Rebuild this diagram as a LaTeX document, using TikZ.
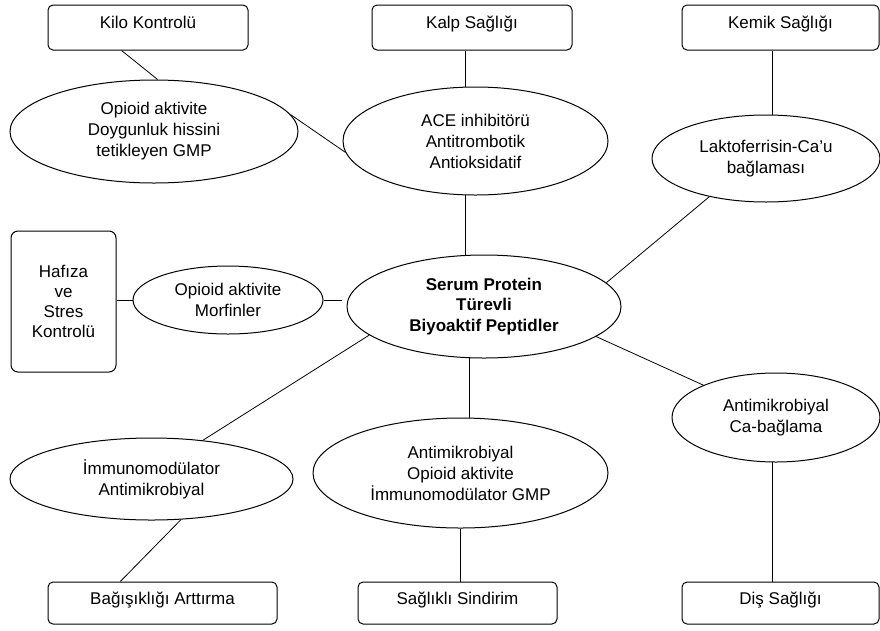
\documentclass[tikz,border=0pt]{standalone}
\usepackage{fontspec}
\setmainfont{Liberation Sans}
\usetikzlibrary{shapes.geometric}
\begin{document}
\begin{tikzpicture}[x=1pt,y=-1pt,
  every node/.style={font=\fontsize{17}{21}\selectfont, align=center, inner sep=0pt},
  topbox/.style={draw, line width=1pt, rounded corners=5pt, minimum width=#1, minimum height=45pt, text height=8pt, text depth=6pt},
  botbox/.style={draw, line width=1pt, rounded corners=5pt, minimum width=#1, minimum height=42pt, text height=8pt, text depth=6pt},
  ell/.style 2 args={draw, ellipse, line width=1pt, minimum width=#1, minimum height=#2},
  conn/.style={line width=0.8pt}]
\useasboundingbox (0,0) rectangle (880,630);
% boxes
\node[topbox=200pt] (kilo) at (148,27.5) {Kilo Kontrolü};
\node[topbox=200pt] (kalp) at (472,27.5) {Kalp Sağlığı};
\node[topbox=197pt] (kemik) at (780.5,27.5) {Kemik Sağlığı};
\node[draw, line width=1pt, rounded corners=7pt, minimum width=105pt, minimum height=141pt, font=\fontsize{17}{20}\selectfont] (hafiza) at (63.5,301.5) {Hafıza\\ve\\Stres\\Kontrolü};
\node[botbox=229pt] (bag) at (162.5,603) {Bağışıklığı Arttırma};
\node[botbox=199pt] (sag) at (457.5,603) {Sağlıklı Sindirim};
\node[botbox=197pt] (dis) at (780.5,603) {Diş Sağlığı};
% ellipses
\node[ell={288pt}{103pt}] (op1) at (154,131.5) {Opioid aktivite\\Doygunluk hissini\\tetikleyen GMP};
\node[ell={265pt}{108pt}] (ace) at (475.5,141) {ACE inhibitörü\\Antitrombotik\\Antioksidatif};
\node[ell={228pt}{87pt}] (lak) at (766,158.5) {Laktoferrisin-Ca’u\\bağlaması};
\node[ell={190pt}{68pt}] (mor) at (228,300) {Opioid aktivite\\Morfinler};
\node[ell={274pt}{103pt}, font=\fontsize{17}{20.5}\selectfont\bfseries] (ser) at (484,306.5) {Serum Protein\\Türevli\\Biyoaktif Peptidler};
\node[ell={283pt}{82pt}] (imm) at (151.5,479) {İmmunomodülator\\Antimikrobiyal};
\node[ell={295pt}{110pt}] (mid) at (460.5,473) {Antimikrobiyal\\Opioid aktivite\\İmmunomodülator GMP};
\node[ell={208pt}{89pt}] (ca) at (776,417.5) {Antimikrobiyal\\Ca-bağlama};
% connectors
\draw[conn] (kilo.221) -- (op1.86);
\draw[conn] (op1.7) -- (ace.185);
\draw[conn] (ace.101) -- (ace.101 |- kalp.south);
\draw[conn] (ace.259) -- (ace.259 |- ser.north);
\draw[conn] (lak.82) -- (lak.82 |- kemik.south);
\draw[conn] (lak.214) -- (ser.11.5);
\draw[conn] (mor.west) -- (mor.west -| hafiza.east);
\draw[conn, shorten >=5pt] (mor.east) -- (mor.east -| ser.west);
\draw[conn] (ser.194) -- (imm.37);
\draw[conn] (imm.306) -- (bag.153);
\draw[conn] (ser.254) -- (ser.254 |- mid.north);
\draw[conn] (mid.south) -- (mid.south |- sag.north);
\draw[conn] (ser.345.6) -- (ca.156.5);
\draw[conn] (ca.265) -- (ca.265 |- dis.north);
\end{tikzpicture}
\end{document}
